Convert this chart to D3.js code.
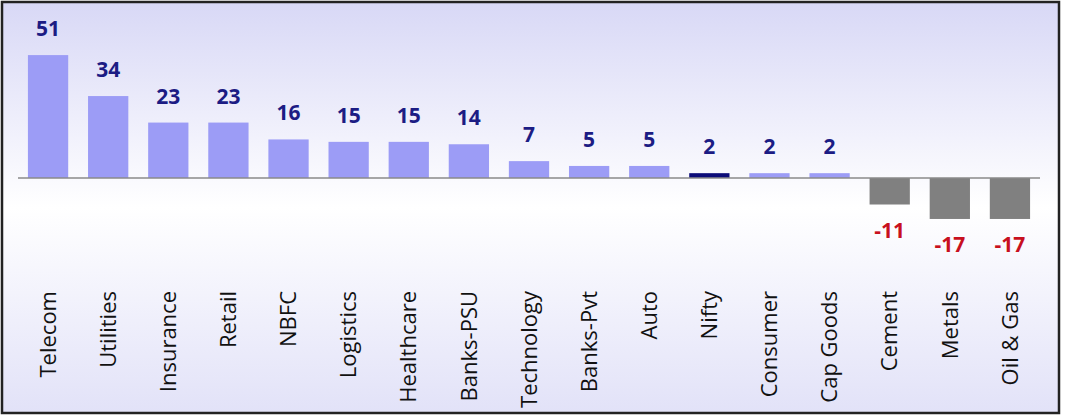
<!DOCTYPE html>
<html>
<head>
<meta charset="utf-8">
<script src="https://cdn.jsdelivr.net/npm/d3@7"></script>
<style>
  html, body { margin: 0; padding: 0; background: #fff; }
  svg { display: block; }
</style>
</head>
<body>
<div id="chart"></div>
<script>
// Sector returns, sorted high to low
const sectors = ['Telecom', 'Utilities', 'Insurance', 'Retail', 'NBFC', 'Logistics', 'Healthcare',
    'Banks-PSU', 'Technology', 'Banks-Pvt', 'Auto', 'Nifty', 'Consumer', 'Cap Goods', 'Cement', 'Metals', 'Oil & Gas']
const returns = [51, 34, 23, 23, 16, 15, 15, 14, 7, 5, 5, 2, 2, 2, -11, -17, -17]
const highlight = ['Nifty']

const chartWidth = 1067
const chartHeight = 418

let svg = d3.select('#chart')
            .append('svg')
            .attr('width', chartWidth)
            .attr('height', chartHeight)

// Background: lavender at top and bottom, white through the middle
let grad = svg.append('defs').append('linearGradient')
    .attr('id', 'bg')
    .attr('x1', 0).attr('y1', 0).attr('x2', 0).attr('y2', 1)
grad.append('stop').attr('offset', '0%').attr('stop-color', '#d8d8f6')
grad.append('stop').attr('offset', '50%').attr('stop-color', '#ffffff')
grad.append('stop').attr('offset', '100%').attr('stop-color', '#e2e2f8')

svg.append('rect')
    .attr('x', 2).attr('y', 2)
    .attr('width', 1057).attr('height', 411)
    .attr('fill', 'url(#bg)')
    .attr('stroke', '#222')
    .attr('stroke-width', 2.5)

let x = d3.scaleBand()
    .domain(sectors)
    .range([18, 1040])
    .paddingInner(0.33)
    .paddingOuter(0.165)

let y = d3.scaleLinear()
    .domain([-20, 55])
    .range([178 + 20 * 2.41, 178 - 55 * 2.41])

// Bars
svg.selectAll('rect.bar')
    .data(sectors)
    .enter()
    .append('rect')
    .attr('class', 'bar')
    .attr('x', d => x(d))
    .attr('width', x.bandwidth())
    .attr('y', (d, i) => y(Math.max(0, returns[i])))
    .attr('height', (d, i) => Math.abs(y(returns[i]) - y(0)))
    .attr('fill', (d, i) => highlight.includes(d) ? '#0c0c78' : (returns[i] < 0 ? '#808080' : '#9c9cf6'))

// Zero line
svg.append('line')
    .attr('x1', x.range()[0]).attr('x2', x.range()[1])
    .attr('y1', y(0)).attr('y2', y(0))
    .attr('stroke', '#8a8a8a')
    .attr('stroke-width', 1.5)

// Value labels
svg.selectAll('text.val')
    .data(sectors)
    .enter()
    .append('text')
    .attr('class', 'val')
    .attr('x', d => x(d) + x.bandwidth() / 2)
    .attr('y', (d, i) => returns[i] < 0 ? y(returns[i]) + 33 : y(returns[i]) - 19)
    .attr('text-anchor', 'middle')
    .attr('font-family', 'Open Sans, sans-serif')
    .attr('font-weight', 'bold')
    .attr('font-size', 21)
    .attr('fill', (d, i) => returns[i] < 0 ? '#c8101e' : '#1c1c84')
    .text((d, i) => returns[i])

// Category labels, rotated
svg.selectAll('text.cat')
    .data(sectors)
    .enter()
    .append('text')
    .attr('class', 'cat')
    .attr('transform', d => `translate(${x(d) + x.bandwidth() / 2},291) rotate(-90)`)
    .attr('dy', '0.35em')
    .attr('text-anchor', 'end')
    .attr('font-family', 'Open Sans, sans-serif')
    .attr('font-size', 22)
    .attr('fill', '#111')
    .text(d => d)
</script>
</body>
</html>
